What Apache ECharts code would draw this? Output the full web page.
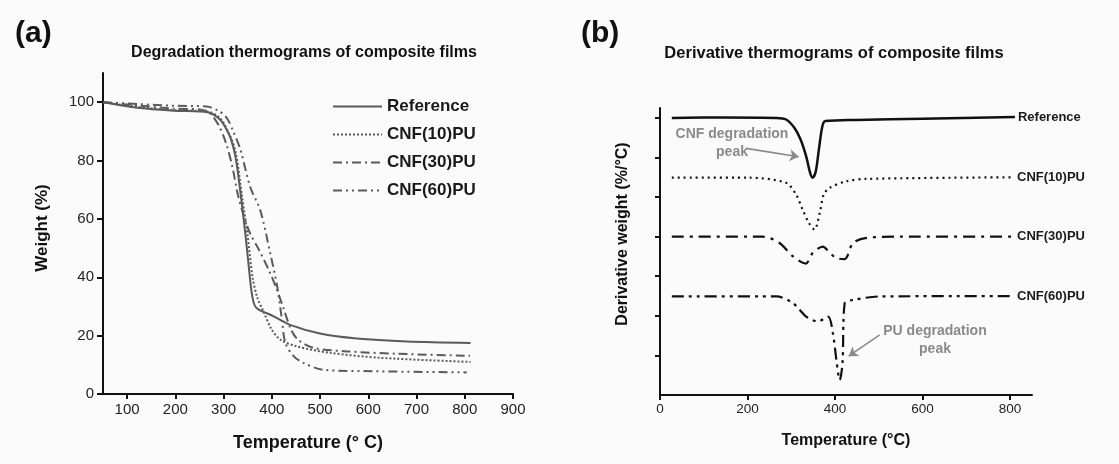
<!DOCTYPE html>
<html>
<head>
<meta charset="utf-8">
<title>TGA / DTG of composite films</title>
<script src="https://cdn.jsdelivr.net/npm/echarts@6/dist/echarts.min.js"></script>
<style>
  html, body { margin: 0; padding: 0; background: #fbfbfb; }
  #chart { width: 1119px; height: 464px; }
</style>
</head>
<body>
<div id="chart"></div>
<script>
// ---- data ----
// (a) weight loss, temperature in °C, weight in %
var refT = [50, 127, 196, 269, 293, 305, 315, 325, 335, 345, 352, 358, 364, 372, 385, 404, 438, 500, 576, 680, 812];
var refW = [100, 98, 97.1, 96.5, 94, 91, 87.5, 81, 69, 55, 44, 35, 30.5, 29, 28, 26.6, 23.7, 20.7, 19, 18, 17.5];
var c10T = [50, 127, 196, 269, 293, 312, 325, 338, 350, 360, 370, 382, 400, 418, 452, 521, 625, 812];
var c10W = [100, 98.3, 97.3, 96.7, 94.5, 89, 83, 68, 54, 40, 33, 28.5, 22, 18.6, 16.3, 14.1, 12.4, 11];
var c30T = [50, 127, 196, 250, 270, 290, 305, 318, 330, 342, 355, 373, 395, 410, 425, 440, 455, 486, 556, 659, 811];
var c30W = [100, 98.8, 97.8, 97.5, 96.5, 92, 86, 78, 68, 61, 55, 49.5, 42, 36, 29, 22, 18.5, 15.8, 14.6, 13.8, 13.1];
var c60T = [50, 127, 196, 265, 290, 307, 320, 335, 355, 376, 397, 411, 421, 428, 445, 466, 507, 611, 804];
var c60W = [100, 99.3, 98.8, 98.5, 97, 94.5, 90, 83.7, 71, 63, 48, 37, 25.5, 17.5, 13, 10.6, 8.3, 7.8, 7.4];

// (b) derivative curves, stacked with offsets (arbitrary units)
var dRefT = [27, 150, 266, 288, 307, 321, 334, 343, 349, 356, 363, 371, 378, 450, 600, 811];
var dRefV = [7.0, 7.01, 7.0, 6.96, 6.75, 6.46, 6.03, 5.61, 5.49, 5.65, 6.2, 6.79, 6.92, 6.95, 6.98, 7.02];
var d10T = [27, 200, 288, 311, 326, 340, 353, 365, 374, 387, 426, 472, 809];
var d10V = [5.49, 5.49, 5.36, 5.06, 4.68, 4.35, 4.18, 4.6, 5.06, 5.23, 5.4, 5.46, 5.5];
var d30T = [27, 235, 273, 304, 333, 349, 372, 388, 403, 422, 441, 472, 548, 809];
var d30V = [4.0, 4.0, 3.84, 3.5, 3.32, 3.59, 3.75, 3.59, 3.46, 3.43, 3.84, 3.97, 4.0, 4.0];
var d60T = [27, 266, 304, 334, 361, 384, 395, 404, 410.6, 417, 422, 441, 502, 809];
var d60V = [2.49, 2.49, 2.32, 1.98, 1.86, 1.98, 1.56, 0.8, 0.38, 0.8, 2.32, 2.4, 2.49, 2.5];

var names = ['Reference', 'CNF(10)PU', 'CNF(30)PU', 'CNF(60)PU'];
var ticksA_x = [100, 200, 300, 400, 500, 600, 700, 800, 900];
var ticksA_y = [0, 20, 40, 60, 80, 100];
var ticksB_x = [0, 200, 400, 600, 800];
var ticksB_y = [1, 2, 3, 4, 5, 6, 7];

function pairs(xs, ys) {
    return xs.map(function (x, i) { return [x, ys[i]]; });
}

var font = 'Liberation Sans, Arial, sans-serif';
var dashes = ['solid', [2, 2], [9, 4, 2, 4], [9, 4, 2, 4, 2, 4]];
var dashesB = ['solid', [2, 4], [12, 6, 3, 6], [12, 5, 3, 5, 3, 5]];

var chart = echarts.init(document.getElementById('chart'));

var leftData = [pairs(refT, refW), pairs(c10T, c10W), pairs(c30T, c30W), pairs(c60T, c60W)];
var rightData = [pairs(dRefT, dRefV), pairs(d10T, d10V), pairs(d30T, d30V), pairs(d60T, d60V)];

var series = [];
leftData.forEach(function (d, i) {
    series.push({
        name: names[i], type: 'line', xAxisIndex: 0, yAxisIndex: 0,
        data: d, symbol: 'none', smooth: 0.3, animation: false,
        lineStyle: { color: '#5a5a5a', width: 2, type: dashes[i] },
        itemStyle: { color: '#5a5a5a' }
    });
});
rightData.forEach(function (d, i) {
    series.push({
        name: names[i], type: 'line', xAxisIndex: 1, yAxisIndex: 1,
        data: d, symbol: 'none', smooth: 0.3, animation: false,
        lineStyle: { color: '#111', width: i === 0 ? 2.5 : 2.2, type: dashesB[i] },
        itemStyle: { color: '#111' },
        endLabel: {
            show: true, formatter: '{a}', distance: 3,
            color: '#1a1a1a', fontSize: 13, fontWeight: 'bold', fontFamily: font
        }
    });
});

// arrows for the two peak notes
series[4].markLine = {
    silent: true, animation: false, symbol: ['none', 'arrow'], symbolSize: 9,
    lineStyle: { color: '#8a8a8a', width: 1.6, type: 'solid' },
    label: { show: false },
    data: [
        [{ coord: [197, 6.23] }, { coord: [317, 6.02] }],
        [{ coord: [502, 1.52] }, { coord: [431, 0.98] }]
    ]
};

var axisLine = { lineStyle: { color: '#111', width: 2 } };

var option = {
    backgroundColor: '#fbfbfb',
    textStyle: { fontFamily: font },
    title: [
        { text: '(a)', left: 10, top: 14, textStyle: { fontSize: 30, fontWeight: 'bold', color: '#111', fontFamily: font } },
        { text: 'Degradation thermograms of composite films', left: 299, top: 40, textAlign: 'center',
          textStyle: { fontSize: 16, fontWeight: 'bold', color: '#111', fontFamily: font } },
        { text: '(b)', left: 576, top: 14, textStyle: { fontSize: 30, fontWeight: 'bold', color: '#111', fontFamily: font } },
        { text: 'Derivative thermograms of composite films', left: 829, top: 40, textAlign: 'center',
          textStyle: { fontSize: 16.5, fontWeight: 'bold', color: '#111', fontFamily: font } }
    ],
    legend: {
        data: names, orient: 'vertical', left: 327, top: 93,
        itemWidth: 49, itemHeight: 14, itemGap: 11,
        itemStyle: { opacity: 0 },
        textStyle: { fontSize: 17, fontWeight: 'bold', color: '#1a1a1a', fontFamily: font }
    },
    grid: [
        { left: 103, right: 606, top: 73, bottom: 70 },
        { left: 660, right: 87, top: 108, bottom: 69 }
    ],
    xAxis: [
        {
            gridIndex: 0, type: 'value', min: 50, max: 900,
            name: 'Temperature (° C)', nameLocation: 'middle', nameGap: 40,
            nameTextStyle: { fontSize: 18, fontWeight: 'bold', color: '#111' },
            axisLine: axisLine, splitLine: { show: false },
            axisTick: { customValues: ticksA_x, length: 5, lineStyle: { color: '#111', width: 2 } },
            axisLabel: { customValues: ticksA_x, fontSize: 15, color: '#222', margin: 8 }
        },
        {
            gridIndex: 1, type: 'value', min: 0, max: 850,
            name: 'Temperature (°C)', nameLocation: 'middle', nameGap: 38,
            nameTextStyle: { fontSize: 16, fontWeight: 'bold', color: '#111' },
            axisLine: axisLine, splitLine: { show: false },
            axisTick: { customValues: ticksB_x, length: 5, lineStyle: { color: '#111', width: 2 } },
            axisLabel: { customValues: ticksB_x, fontSize: 13.5, color: '#222', margin: 7 }
        }
    ],
    yAxis: [
        {
            gridIndex: 0, type: 'value', min: 0, max: 110,
            axisLine: { show: true, lineStyle: { color: '#111', width: 2 } }, splitLine: { show: false },
            axisTick: { show: true, customValues: ticksA_y, length: 6, lineStyle: { color: '#111', width: 2 } },
            axisLabel: { customValues: ticksA_y, fontSize: 15, color: '#222', margin: 9 }
        },
        {
            gridIndex: 1, type: 'value', min: 0, max: 7.25,
            axisLine: { show: true, lineStyle: { color: '#111', width: 2 } }, splitLine: { show: false },
            axisTick: { show: true, customValues: ticksB_y, length: 5, lineStyle: { color: '#111', width: 2 } },
            axisLabel: { show: false }
        }
    ],
    graphic: [
        { type: 'text', x: 42, y: 228, rotation: Math.PI / 2,
          style: { text: 'Weight (%)', fill: '#111', font: 'bold 17px ' + font, textAlign: 'center', textVerticalAlign: 'middle' } },
        { type: 'text', x: 623, y: 234, rotation: Math.PI / 2,
          style: { text: 'Derivative weight (%/°C)', fill: '#111', font: 'bold 16px ' + font, textAlign: 'center', textVerticalAlign: 'middle' } },
        { type: 'text', x: 732, y: 143,
          style: { text: 'CNF degradation\npeak', fill: '#8a8a8a', font: 'bold 14px ' + font, lineHeight: 18, textAlign: 'center', textVerticalAlign: 'middle' } },
        { type: 'text', x: 935, y: 340,
          style: { text: 'PU degradation\npeak', fill: '#8a8a8a', font: 'bold 14px ' + font, lineHeight: 18, textAlign: 'center', textVerticalAlign: 'middle' } }
    ],
    series: series
};

chart.setOption(option);
</script>
</body>
</html>
